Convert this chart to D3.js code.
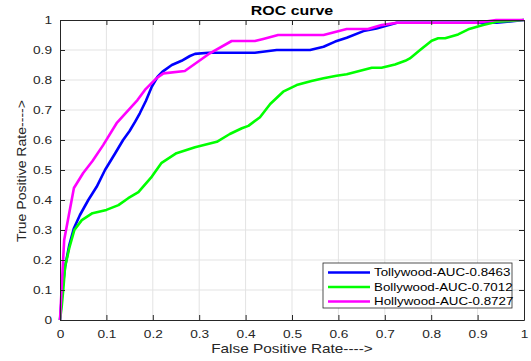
<!DOCTYPE html>
<html lang="en">
<head>
<meta charset="utf-8">
<title>ROC curve</title>
<script src="https://cdn.jsdelivr.net/npm/d3@7/dist/d3.min.js"></script>
<style>
  body { margin: 0; background: white; }
  svg { display: block; font-family: "Liberation Sans", Arial, sans-serif; }
  .tick text { fill: #262626; font-size: 11.6px; }
</style>
</head>
<body>
<svg id="chart"></svg>
<script>
// ROC data
var tollyX = [0, 0.005, 0.011, 0.02, 0.03, 0.043, 0.061, 0.079, 0.097, 0.119, 0.136, 0.15, 0.162, 0.172, 0.185, 0.198, 0.21, 0.221, 0.241, 0.262, 0.28, 0.291, 0.32, 0.42, 0.467, 0.539, 0.568, 0.593, 0.618, 0.654, 0.682, 0.726, 0.92, 0.941, 1]
var tollyY = [0, 0.1, 0.178, 0.25, 0.306, 0.35, 0.4, 0.444, 0.5, 0.556, 0.6, 0.63, 0.661, 0.689, 0.73, 0.778, 0.81, 0.828, 0.85, 0.864, 0.88, 0.887, 0.891, 0.891, 0.9, 0.9, 0.911, 0.928, 0.941, 0.963, 0.972, 0.991, 0.991, 0.991, 1]

var bollyX = [0, 0.004, 0.007, 0.011, 0.02, 0.031, 0.047, 0.07, 0.1, 0.126, 0.147, 0.169, 0.198, 0.219, 0.251, 0.291, 0.338, 0.366, 0.392, 0.406, 0.431, 0.453, 0.481, 0.51, 0.542, 0.568, 0.596, 0.618, 0.647, 0.672, 0.693, 0.722, 0.744, 0.754, 0.776, 0.801, 0.815, 0.83, 0.858, 0.88, 0.912, 0.941, 0.97, 1]
var bollyY = [0, 0.05, 0.1, 0.178, 0.24, 0.3, 0.333, 0.356, 0.367, 0.383, 0.406, 0.426, 0.478, 0.524, 0.556, 0.576, 0.594, 0.62, 0.639, 0.647, 0.676, 0.72, 0.761, 0.783, 0.797, 0.806, 0.814, 0.819, 0.831, 0.841, 0.841, 0.852, 0.864, 0.872, 0.9, 0.931, 0.939, 0.939, 0.952, 0.969, 0.983, 0.994, 0.997, 1]

var hollyX = [0, 0.005, 0.009, 0.03, 0.05, 0.07, 0.093, 0.122, 0.144, 0.167, 0.183, 0.208, 0.223, 0.269, 0.32, 0.37, 0.42, 0.438, 0.47, 0.568, 0.618, 0.664, 0.693, 0.726, 0.898, 0.94, 1]
var hollyY = [0, 0.15, 0.267, 0.44, 0.49, 0.53, 0.583, 0.656, 0.694, 0.733, 0.767, 0.806, 0.822, 0.83, 0.886, 0.93, 0.93, 0.937, 0.95, 0.95, 0.97, 0.97, 0.983, 0.991, 0.991, 1, 1]

var seriesNames = ["Tollywood-AUC-0.8463", "Bollywood-AUC-0.7012", "Hollywood-AUC-0.8727"]
var seriesColors = ["#0000ff", "#00ff00", "#ff00ff"]
var tickValues = [0, 0.1, 0.2, 0.3, 0.4, 0.5, 0.6, 0.7, 0.8, 0.9, 1]

var W = 531, H = 361
var margin = {top: 20, right: 7, bottom: 41, left: 60}
var width = W - margin.left - margin.right   // 464
var height = H - margin.top - margin.bottom  // 300
var axisColor = "#262626"
// the original picture is a bit wider than tall, so text comes out stretched sideways
var stretch = 1.18

var svg = d3.select("#chart").attr("width", W).attr("height", H)
var g = svg.append("g").attr("transform", "translate(" + margin.left + "," + margin.top + ")")

var x = d3.scaleLinear().domain([0, 1]).range([0, width])
var y = d3.scaleLinear().domain([0, 1]).range([height, 0])

function fmt(d) { return d === 0 || d === 1 ? String(d) : d3.format(".1f")(d) }

function widen(sel, k) {
  sel.each(function(){
    var len = this.getComputedTextLength()
    d3.select(this).attr("textLength", len * k).attr("lengthAdjust", "spacingAndGlyphs")
  })
}

// grid lines
g.append("g").selectAll("line").data(tickValues.slice(1, -1)).enter().append("line")
  .attr("x1", function(d){ return x(d) }).attr("x2", function(d){ return x(d) })
  .attr("y1", 0).attr("y2", height)
  .attr("stroke", "#e3e3e3").attr("stroke-width", 1)
g.append("g").selectAll("line").data(tickValues.slice(1, -1)).enter().append("line")
  .attr("y1", function(d){ return y(d) }).attr("y2", function(d){ return y(d) })
  .attr("x1", 0).attr("x2", width)
  .attr("stroke", "#e3e3e3").attr("stroke-width", 1)

// curves
var series = [
  {name: seriesNames[0], color: seriesColors[0], xs: tollyX, ys: tollyY},
  {name: seriesNames[1], color: seriesColors[1], xs: bollyX, ys: bollyY},
  {name: seriesNames[2], color: seriesColors[2], xs: hollyX, ys: hollyY}
]
var line = d3.line().x(function(d){ return x(d[0]) }).y(function(d){ return y(d[1]) })

g.selectAll(".curve").data(series).enter().append("path")
  .attr("class", "curve")
  .attr("fill", "none")
  .attr("stroke", function(d){ return d.color })
  .attr("stroke-width", 2.6)
  .attr("stroke-linejoin", "round")
  .attr("d", function(d){ return line(d3.zip(d.xs, d.ys)) })

// axes, ticks pointing inward like matlab
var xAxis = d3.axisBottom(x).tickValues(tickValues).tickFormat(fmt).tickSizeInner(-5).tickSizeOuter(0).tickPadding(10)
var yAxis = d3.axisLeft(y).tickValues(tickValues).tickFormat(fmt).tickSizeInner(-5).tickSizeOuter(0).tickPadding(8)
var xTop = d3.axisTop(x).tickValues(tickValues).tickFormat("").tickSizeInner(-5).tickSizeOuter(0)
var yRight = d3.axisRight(y).tickValues(tickValues).tickFormat("").tickSizeInner(-5).tickSizeOuter(0)

g.append("g").attr("transform", "translate(0," + height + ")").call(xAxis)
g.append("g").call(yAxis)
g.append("g").call(xTop)
g.append("g").attr("transform", "translate(" + width + ",0)").call(yRight)
g.selectAll(".domain").attr("stroke", axisColor)
g.selectAll(".tick line").attr("stroke", axisColor)
widen(g.selectAll(".tick text"), stretch)

// legend
var lg = g.append("g").attr("transform", "translate(263,243)")
lg.append("rect").attr("width", 189).attr("height", 45)
  .attr("fill", "white").attr("stroke", axisColor).attr("stroke-width", 0.8)
lg.selectAll(".lrow").data(series).enter().append("g")
  .attr("class", "lrow")
  .attr("transform", function(d, i){ return "translate(0," + (9.5 + i * 14.5) + ")" })
  .each(function(d){
    var r = d3.select(this)
    r.append("line").attr("x1", 5).attr("x2", 47).attr("stroke", d.color).attr("stroke-width", 2.6)
    r.append("text").attr("x", 51).attr("dy", "0.35em")
      .attr("font-size", "11.3px").attr("fill", "#000").text(d.name)
  })
widen(lg.selectAll("text"), stretch)

// title and labels
var title = svg.append("text").attr("x", margin.left + width / 2).attr("y", 15)
  .attr("text-anchor", "middle").attr("font-weight", "bold").attr("font-size", "13.5px")
  .attr("fill", "#000").text("ROC curve")
var xLabel = svg.append("text").attr("x", margin.left + width / 2).attr("y", 353)
  .attr("text-anchor", "middle").attr("font-size", "13px")
  .attr("fill", axisColor).text("False Positive Rate---->")
var yLabel = svg.append("text").attr("transform", "translate(26," + (margin.top + height / 2 + 1) + ") rotate(-90)")
  .attr("text-anchor", "middle").attr("font-size", "13.5px")
  .attr("fill", axisColor).text("True Positive Rate---->")
widen(title, stretch)
widen(xLabel, stretch)
widen(yLabel, 1.04)
</script>
</body>
</html>
